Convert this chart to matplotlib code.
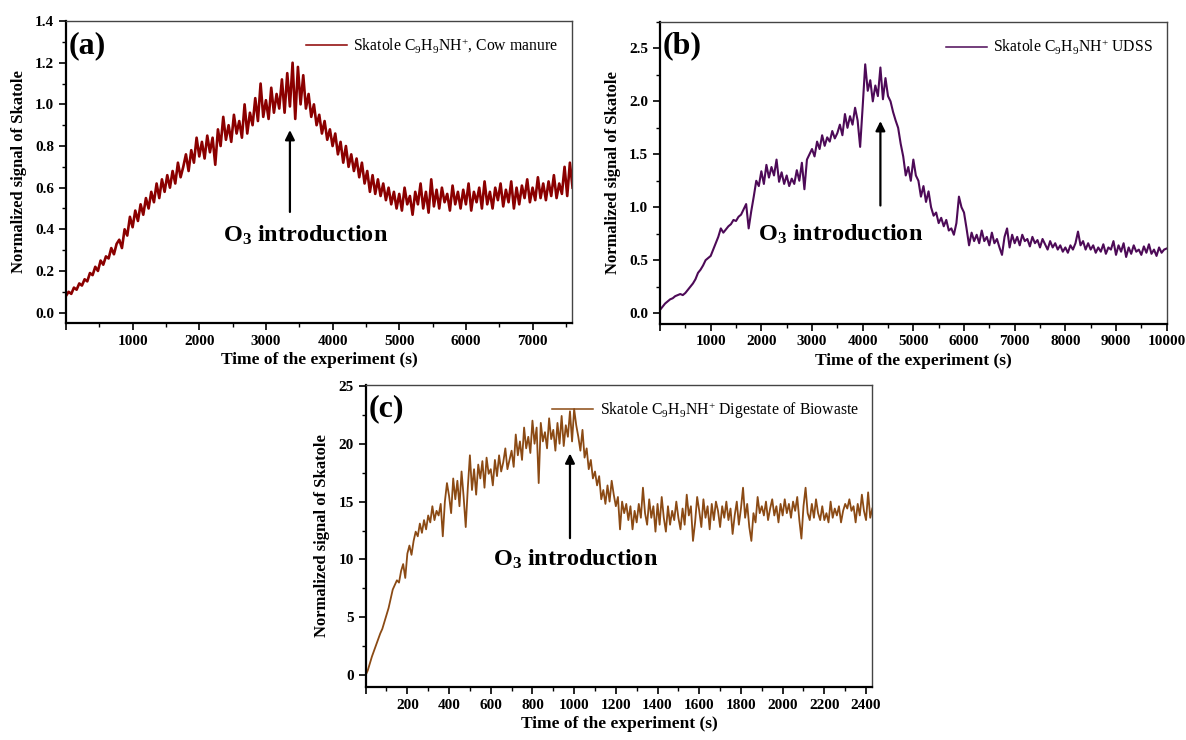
import numpy as np
import matplotlib
matplotlib.use("Agg")
import matplotlib.pyplot as plt
from matplotlib.ticker import MultipleLocator

plt.rcParams['font.family'] = ['Liberation Serif', 'DejaVu Serif']
plt.rcParams['mathtext.fontset'] = 'custom'
plt.rcParams['mathtext.rm'] = 'Liberation Serif'
plt.rcParams['mathtext.it'] = 'Liberation Serif:italic'
plt.rcParams['mathtext.bf'] = 'Liberation Serif:bold'

# ---------------- data ----------------
# (a) Cow manure, one sample every 40 s from 0 to 7600 s
a_t_end = 7600
a_vals = [
    0.08, 0.10, 0.09, 0.12, 0.11, 0.14, 0.13, 0.16, 0.15, 0.19,
    0.18, 0.22, 0.20, 0.25, 0.23, 0.27, 0.26, 0.31, 0.28, 0.33,
    0.35, 0.31, 0.40, 0.37, 0.46, 0.41, 0.49, 0.44, 0.52, 0.47,
    0.55, 0.50, 0.58, 0.53, 0.62, 0.55, 0.64, 0.58, 0.66, 0.60,
    0.68, 0.62, 0.72, 0.65, 0.70, 0.76, 0.68, 0.78, 0.72, 0.84,
    0.75, 0.82, 0.74, 0.85, 0.77, 0.84, 0.71, 0.88, 0.80, 0.94,
    0.83, 0.90, 0.82, 0.95, 0.86, 0.92, 0.84, 1.00, 0.86, 0.96,
    0.90, 1.03, 0.92, 1.10, 0.94, 1.02, 0.93, 1.08, 0.96, 1.05,
    0.98, 1.12, 0.96, 1.15, 0.99, 1.20, 0.93, 1.18, 1.00, 1.14,
    0.98, 1.05, 0.94, 1.00, 0.90, 0.95, 0.86, 0.92, 0.83, 0.88,
    0.80, 0.86, 0.76, 0.82, 0.72, 0.80, 0.70, 0.76, 0.68, 0.74,
    0.65, 0.72, 0.62, 0.68, 0.58, 0.66, 0.57, 0.64, 0.56, 0.62,
    0.54, 0.60, 0.52, 0.58, 0.50, 0.57, 0.49, 0.60, 0.52, 0.56,
    0.47, 0.58, 0.52, 0.62, 0.50, 0.58, 0.48, 0.64, 0.51, 0.59,
    0.50, 0.60, 0.53, 0.57, 0.49, 0.61, 0.52, 0.58, 0.50, 0.59,
    0.52, 0.62, 0.49, 0.58, 0.53, 0.60, 0.50, 0.63, 0.52, 0.58,
    0.50, 0.60, 0.54, 0.62, 0.51, 0.59, 0.53, 0.63, 0.50, 0.60,
    0.52, 0.61, 0.55, 0.64, 0.53, 0.60, 0.54, 0.65, 0.55, 0.62,
    0.54, 0.63, 0.56, 0.66, 0.55, 0.62, 0.57, 0.70, 0.56, 0.72,
    0.60,
]

# (b) UDSS, one sample every 50 s from 0 to 10000 s
b_t_end = 10000
b_vals = [
    0.03, 0.06, 0.09, 0.11, 0.13, 0.14, 0.16, 0.17, 0.18, 0.17,
    0.19, 0.22, 0.25, 0.28, 0.32, 0.38, 0.41, 0.45, 0.50, 0.52,
    0.54, 0.60, 0.66, 0.72, 0.80, 0.76, 0.79, 0.82, 0.84, 0.88,
    0.87, 0.91, 0.93, 0.98, 1.03, 0.80, 0.96, 1.10, 1.25, 1.20,
    1.34, 1.22, 1.40, 1.28, 1.38, 1.30, 1.45, 1.24, 1.33, 1.22,
    1.30, 1.20, 1.27, 1.22, 1.35, 1.25, 1.42, 1.17, 1.45, 1.50,
    1.55, 1.48, 1.62, 1.55, 1.68, 1.58, 1.66, 1.62, 1.72, 1.65,
    1.70, 1.78, 1.68, 1.88, 1.75, 1.86, 1.78, 1.94, 1.82, 1.57,
    1.95, 2.35, 2.10, 2.20, 2.00, 2.15, 2.05, 2.32, 2.02, 2.22,
    2.05, 2.00, 1.90, 1.82, 1.75, 1.60, 1.48, 1.30, 1.38, 1.25,
    1.45, 1.30, 1.25, 1.10, 1.20, 1.05, 1.15, 1.00, 0.92, 0.95,
    0.85, 0.90, 0.82, 0.88, 0.78, 0.80, 0.74, 0.85, 1.10, 1.00,
    0.95, 0.80, 0.64, 0.76, 0.68, 0.74, 0.66, 0.78, 0.68, 0.72,
    0.64, 0.76, 0.66, 0.70, 0.62, 0.55, 0.72, 0.80, 0.62, 0.74,
    0.66, 0.72, 0.64, 0.74, 0.68, 0.70, 0.63, 0.72, 0.66, 0.69,
    0.62, 0.70, 0.65, 0.60, 0.68, 0.62, 0.66, 0.60, 0.64, 0.58,
    0.62, 0.57, 0.64, 0.60, 0.66, 0.77, 0.64, 0.68, 0.60, 0.66,
    0.60, 0.64, 0.57, 0.62, 0.58, 0.65, 0.56, 0.62, 0.60, 0.68,
    0.55, 0.64, 0.58, 0.66, 0.53, 0.62, 0.56, 0.64, 0.58, 0.60,
    0.55, 0.63, 0.57, 0.65, 0.56, 0.60, 0.54, 0.62, 0.57, 0.60,
    0.61,
]

# (c) Digestate of biowaste, one sample every 10 s from 0 to 2430 s
c_t_end = 2430
c_vals = [
    0.0, 0.4, 1.0, 1.6, 2.1, 2.6, 3.1, 3.6, 4.0, 4.6,
    5.2, 5.8, 6.6, 7.4, 7.8, 8.2, 8.0, 9.0, 9.6, 8.4,
    10.5, 11.2, 10.4, 11.6, 12.4, 12.0, 13.1, 12.3, 13.4, 12.6,
    13.8, 13.2, 14.6, 13.4, 14.2, 13.8, 14.8, 12.0, 15.0, 16.6,
    15.5, 14.0, 17.0, 15.2, 16.8, 14.6, 17.6, 15.4, 12.8, 16.2,
    19.0, 16.0, 17.8, 15.6, 18.2, 17.0, 18.5, 16.2, 18.8, 17.4,
    17.8, 16.4, 18.6, 17.2, 19.0, 17.6, 18.4, 19.6, 17.8, 18.6,
    19.4, 18.0, 20.8, 19.0, 20.2, 18.6, 21.4, 19.6, 20.6, 19.2,
    22.0, 20.0, 21.4, 16.6, 21.8, 20.2, 21.0, 19.6, 22.2, 20.4,
    21.2, 19.4, 21.8, 20.0, 22.4, 19.8, 21.6, 20.6, 22.8, 20.2,
    23.0, 21.6, 20.6, 19.4, 21.2, 18.8, 19.6, 17.8, 18.6, 17.0,
    17.6, 16.4, 17.2, 15.2, 16.0, 14.8, 16.4, 15.0, 16.8, 15.6,
    14.6, 15.4, 12.6, 15.0, 14.0, 14.8, 13.4, 14.6, 12.6, 14.2,
    13.2, 14.8, 13.6, 16.2, 14.0, 13.0, 15.2, 13.6, 14.6, 12.4,
    14.8, 13.0, 15.4, 13.6, 12.4, 14.6, 13.0, 14.2, 13.4, 15.0,
    13.6, 12.6, 14.4, 13.0, 15.6, 13.8, 14.6, 11.6, 13.2, 15.4,
    14.2, 12.8, 15.2, 13.6, 14.6, 12.6, 14.8, 13.4, 15.0, 14.2,
    12.8, 14.6, 13.6, 15.0, 13.4, 14.4, 12.2, 13.8, 15.0, 13.0,
    14.4, 16.2, 13.6, 14.8, 12.8, 11.6, 14.0, 13.2, 15.4, 14.0,
    14.6, 13.8, 15.0, 13.4, 14.4, 15.2, 13.8, 14.6, 13.2, 14.8,
    13.8, 15.2, 14.0, 14.8, 13.6, 15.0, 14.2, 15.4, 13.4, 11.8,
    14.6, 16.2, 14.0, 13.4, 14.8, 13.6, 15.2, 14.0, 13.4, 14.6,
    13.4, 14.0, 13.2, 15.0, 13.6, 14.4, 13.8, 14.6, 13.2, 14.2,
    14.8, 14.4, 15.2, 14.2, 14.6, 13.2, 14.8, 13.8, 15.6, 14.2,
    13.4, 15.8, 13.6, 14.4,
]

labels = [
    r"Skatole C$_9$H$_9$NH$^{+}$, Cow manure",
    r"Skatole C$_9$H$_9$NH$^{+}$ UDSS",
    r"Skatole C$_9$H$_9$NH$^{+}$ Digestate of Biowaste",
]
panel_tags = ["(a)", "(b)", "(c)"]
arrow_x = [3360, 4350, 980]
arrow_y = [(0.47, 0.89), (0.99, 1.84), (11.6, 19.4)]
note_xy = [(3600, 0.37), (3560, 0.74), (1005, 10.0)]

# ---------------- styling ----------------
colors = ["#8b0000", "#4d0a57", "#8b4a14"]
line_w = [1.9, 1.5, 1.3]
xlims = [(0, 7590), (0, 10000), (0, 2430)]
ylims = [(-0.05, 1.40), (-0.10, 2.75), (-1.0, 25.1)]
xmajor = [1000, 1000, 200]
xminor = [500, 500, 100]
ymajor = [0.2, 0.5, 5]
yminor = [0.1, 0.25, 2.5]
yfmt = ["%.1f", "%.1f", "%d"]
rects = [
    [0.0556, 0.5635, 0.4266, 0.408],
    [0.5565, 0.5626, 0.4272, 0.4077],
    [0.3083, 0.0720, 0.4272, 0.4081],
]

series = [
    (np.linspace(0, a_t_end, len(a_vals)), np.array(a_vals)),
    (np.linspace(0, b_t_end, len(b_vals)), np.array(b_vals)),
    (np.linspace(0, c_t_end, len(c_vals)), np.array(c_vals)),
]

fig = plt.figure(figsize=(11.86, 7.40), dpi=100)

for i in range(3):
    ax = fig.add_axes(rects[i])
    t, v = series[i]
    ax.plot(t, v, color=colors[i], lw=line_w[i], label=labels[i])
    ax.set_xlim(*xlims[i])
    ax.set_ylim(*ylims[i])
    ax.xaxis.set_major_locator(MultipleLocator(xmajor[i]))
    ax.xaxis.set_minor_locator(MultipleLocator(xminor[i]))
    ax.yaxis.set_major_locator(MultipleLocator(ymajor[i]))
    ax.yaxis.set_minor_locator(MultipleLocator(yminor[i]))
    ax.yaxis.set_major_formatter(matplotlib.ticker.FormatStrFormatter(yfmt[i]))
    ax.xaxis.set_major_formatter(matplotlib.ticker.FuncFormatter(
        lambda x, p: "" if abs(x) < 1e-9 else "%d" % x))
    ax.tick_params(which='major', direction='out', length=5, width=1.2,
                   labelsize=11, top=False, right=False)
    ax.tick_params(which='minor', direction='out', length=3, width=1.0,
                   top=False, right=False)
    for lab in ax.get_xticklabels() + ax.get_yticklabels():
        lab.set_fontweight('bold')
    for s in ['left', 'bottom']:
        ax.spines[s].set_linewidth(1.6)
        ax.spines[s].set_color('black')
    for s in ['top', 'right']:
        ax.spines[s].set_linewidth(1.0)
        ax.spines[s].set_color('#444444')
    ax.set_xlabel("Time of the experiment (s)", fontsize=12.5, fontweight='bold',
                  labelpad=3)
    ax.set_ylabel("Normalized signal of Skatole", fontsize=12, fontweight='bold',
                  labelpad=6)
    ax.text(0.006, 0.968, panel_tags[i], transform=ax.transAxes, fontsize=23,
            fontweight='bold', va='top', ha='left')
    leg = ax.legend(loc='upper right', frameon=False, fontsize=11.3,
                    handlelength=2.6, handletextpad=0.4,
                    borderaxespad=0.3, bbox_to_anchor=(0.995, 0.985))
    for ln in leg.get_lines():
        ln.set_linewidth(1.1)
    ax.annotate("", xy=(arrow_x[i], arrow_y[i][1]), xytext=(arrow_x[i], arrow_y[i][0]),
                arrowprops=dict(arrowstyle='-|>', color='black', lw=1.6,
                                mutation_scale=14))
    ax.text(note_xy[i][0], note_xy[i][1], r"$\mathbf{O_3}$ introduction",
            fontsize=17.5, fontweight='bold', ha='center', va='center')

fig.savefig("out.png", dpi=100)
